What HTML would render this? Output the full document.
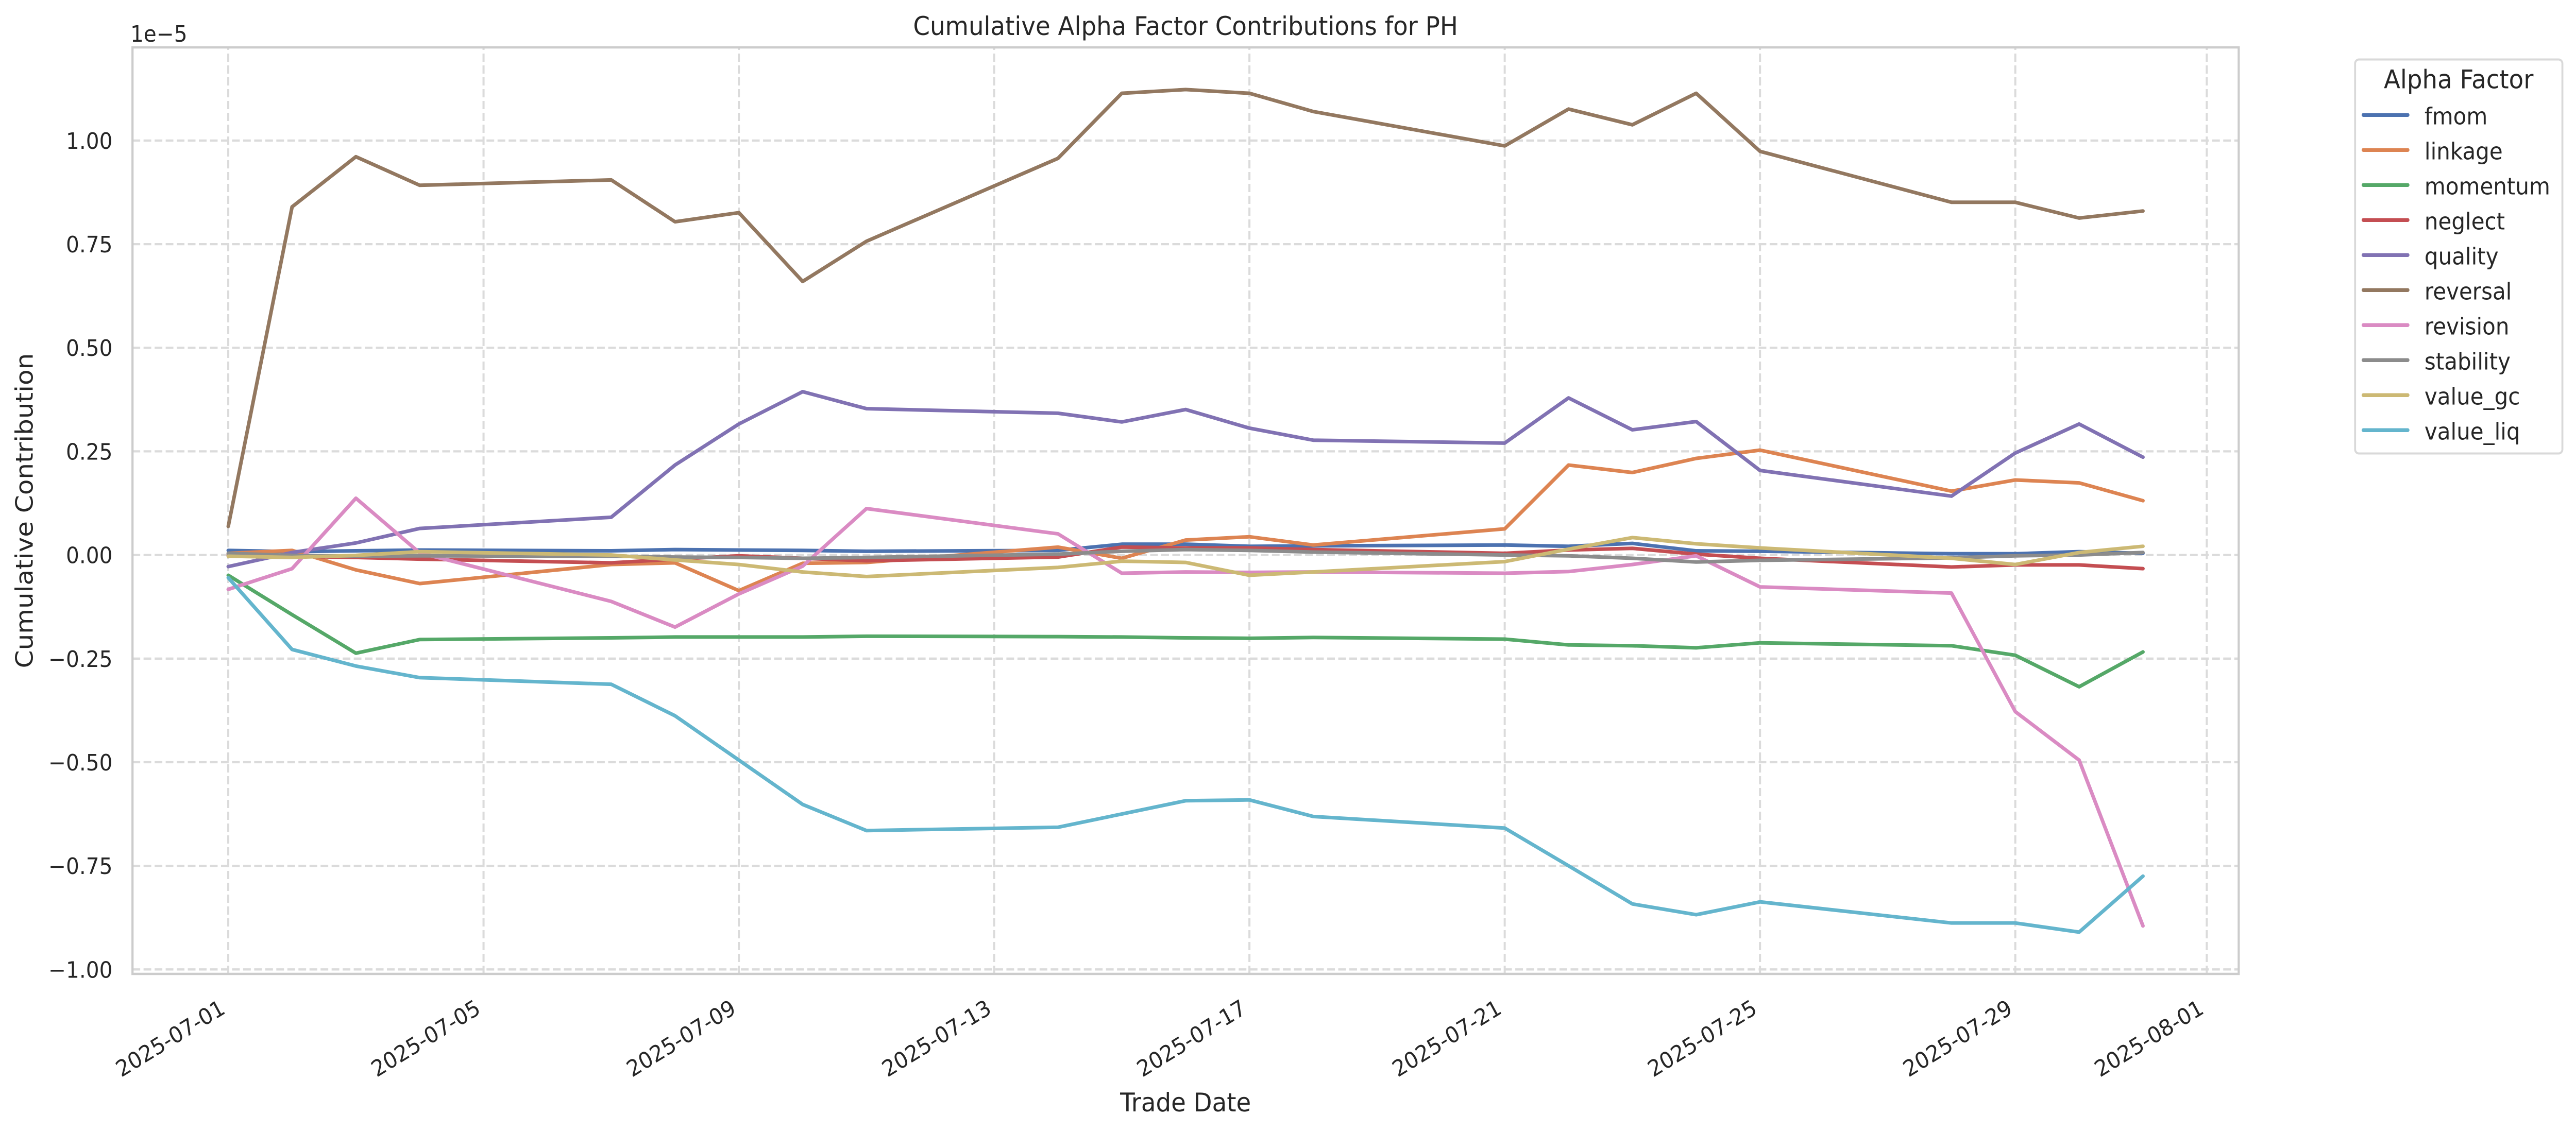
<!DOCTYPE html>
<html>
<head>
<meta charset="utf-8">
<style>
html,body{margin:0;padding:0;background:#ffffff;overflow:hidden;width:100%;height:100%;}
svg{display:block;width:100vw;height:100vh;}
text{font-family:"DejaVu Sans","Liberation Sans",sans-serif;fill:#262626;}
</style>
</head>
<body>
<svg viewBox="0 0 5356 2198" preserveAspectRatio="none" xmlns="http://www.w3.org/2000/svg">
<rect x="0" y="0" width="5356" height="2198" fill="#ffffff"/>

<!-- axes background -->
<rect x="275.5" y="92" width="4379.2" height="1799" fill="#ffffff"/>

<!-- grid -->
<g stroke="#dbdbdb" stroke-width="4.3" stroke-dasharray="16 7" fill="none">
<path d="M275.5 272.9H4654.7"/>
<path d="M275.5 474.1H4654.7"/>
<path d="M275.5 675.25H4654.7"/>
<path d="M275.5 876.4H4654.7"/>
<path d="M275.5 1077.6H4654.7"/>
<path d="M275.5 1278.8H4654.7"/>
<path d="M275.5 1479.95H4654.7"/>
<path d="M275.5 1681.1H4654.7"/>
<path d="M275.5 1882.3H4654.7"/>
<path d="M474.6 1891V92"/>
<path d="M1005.4 1891V92"/>
<path d="M1536.2 1891V92"/>
<path d="M2067 1891V92"/>
<path d="M2597.8 1891V92"/>
<path d="M3128.6 1891V92"/>
<path d="M3659.4 1891V92"/>
<path d="M4190.2 1891V92"/>
<path d="M4588.3 1891V92"/>
</g>

<!-- series -->
<g transform="translate(474.6,1077.6) scale(132.7,-804.7)" fill="none" stroke-width="7" stroke-linecap="round" stroke-linejoin="round">
<polyline vector-effect="non-scaling-stroke" stroke="#4C72B0" points="0,0.011 1,0.008 2,0.010 3,0.012 6,0.010 7,0.013 8,0.012 9,0.011 10,0.009 13,0.011 14,0.026 15,0.026 16,0.021 17,0.022 20,0.024 21,0.021 22,0.028 23,0.010 24,0.009 27,0.003 28,0.003 29,0.008 30,0.004"/>
<polyline vector-effect="non-scaling-stroke" stroke="#DD8452" points="0,0.004 1,0.011 2,-0.036 3,-0.069 6,-0.023 7,-0.019 8,-0.086 9,-0.020 10,-0.018 13,0.019 14,-0.008 15,0.036 16,0.044 17,0.024 20,0.063 21,0.217 22,0.199 23,0.233 24,0.253 27,0.154 28,0.181 29,0.174 30,0.131"/>
<polyline vector-effect="non-scaling-stroke" stroke="#55A868" points="0,-0.049 1,-0.144 2,-0.237 3,-0.204 6,-0.200 7,-0.198 8,-0.198 9,-0.198 10,-0.196 13,-0.197 14,-0.198 15,-0.200 16,-0.201 17,-0.199 20,-0.203 21,-0.217 22,-0.219 23,-0.224 24,-0.212 27,-0.219 28,-0.242 29,-0.318 30,-0.234"/>
<polyline vector-effect="non-scaling-stroke" stroke="#C44E52" points="0,0.000 1,-0.003 2,-0.006 3,-0.010 6,-0.019 7,-0.010 8,-0.002 9,-0.008 10,-0.014 13,-0.005 14,0.019 15,0.017 16,0.017 17,0.013 20,0.004 21,0.012 22,0.016 23,0.002 24,-0.008 27,-0.029 28,-0.024 29,-0.024 30,-0.033"/>
<polyline vector-effect="non-scaling-stroke" stroke="#8172B3" points="0,-0.028 1,0.006 2,0.029 3,0.064 6,0.091 7,0.217 8,0.316 9,0.394 10,0.353 13,0.342 14,0.321 15,0.351 16,0.306 17,0.277 20,0.270 21,0.379 22,0.302 23,0.322 24,0.204 27,0.142 28,0.246 29,0.316 30,0.236"/>
<polyline vector-effect="non-scaling-stroke" stroke="#937860" points="0,0.069 1,0.840 2,0.961 3,0.892 6,0.905 7,0.804 8,0.826 9,0.660 10,0.757 13,0.957 14,1.114 15,1.123 16,1.114 17,1.070 20,0.987 21,1.076 22,1.038 23,1.114 24,0.974 27,0.851 28,0.851 29,0.813 30,0.830"/>
<polyline vector-effect="non-scaling-stroke" stroke="#DA8BC3" points="0,-0.083 1,-0.033 2,0.137 3,0.005 6,-0.112 7,-0.174 8,-0.094 9,-0.027 10,0.112 13,0.051 14,-0.044 15,-0.041 16,-0.042 17,-0.041 20,-0.044 21,-0.040 22,-0.023 23,-0.002 24,-0.077 27,-0.092 28,-0.378 29,-0.495 30,-0.895"/>
<polyline vector-effect="non-scaling-stroke" stroke="#8C8C8C" points="0,0.004 1,-0.001 2,-0.003 3,-0.002 6,-0.003 7,-0.005 8,-0.006 9,-0.008 10,-0.006 13,0.002 14,0.009 15,0.013 16,0.011 17,0.007 20,0.000 21,-0.002 22,-0.008 23,-0.017 24,-0.013 27,-0.007 28,-0.002 29,0.000 30,0.006"/>
<polyline vector-effect="non-scaling-stroke" stroke="#CCB974" points="0,-0.003 1,-0.006 2,-0.001 3,0.008 6,0.000 7,-0.012 8,-0.023 9,-0.041 10,-0.052 13,-0.030 14,-0.015 15,-0.018 16,-0.049 17,-0.041 20,-0.016 21,0.014 22,0.042 23,0.027 24,0.017 27,-0.008 28,-0.023 29,0.006 30,0.021"/>
<polyline vector-effect="non-scaling-stroke" stroke="#64B5CD" points="0,-0.055 1,-0.228 2,-0.268 3,-0.296 6,-0.312 7,-0.388 8,-0.495 9,-0.602 10,-0.665 13,-0.657 14,-0.625 15,-0.593 16,-0.591 17,-0.631 20,-0.659 21,-0.750 22,-0.842 23,-0.868 24,-0.837 27,-0.888 28,-0.888 29,-0.910 30,-0.775"/>
</g>

<!-- spines -->
<rect x="275.5" y="92" width="4379.2" height="1799" fill="none" stroke="#cccccc" stroke-width="4.5"/>

<!-- y tick labels -->
<g font-size="43.5" text-anchor="end">
<text x="234" y="288.9">1.00</text>
<text x="234" y="490.1">0.75</text>
<text x="234" y="691.25">0.50</text>
<text x="234" y="892.4">0.25</text>
<text x="234" y="1093.6">0.00</text>
<text x="234" y="1294.8">−0.25</text>
<text x="234" y="1495.95">−0.50</text>
<text x="234" y="1697.1">−0.75</text>
<text x="234" y="1898.3">−1.00</text>
</g>
<text x="271" y="81" font-size="43.5">1e−5</text>

<!-- x tick labels -->
<g font-size="43.5" text-anchor="end">
<text transform="translate(471,1966) rotate(-30)">2025-07-01</text>
<text transform="translate(1002,1966) rotate(-30)">2025-07-05</text>
<text transform="translate(1533,1966) rotate(-30)">2025-07-09</text>
<text transform="translate(2064,1966) rotate(-30)">2025-07-13</text>
<text transform="translate(2594,1966) rotate(-30)">2025-07-17</text>
<text transform="translate(3125,1966) rotate(-30)">2025-07-21</text>
<text transform="translate(3656,1966) rotate(-30)">2025-07-25</text>
<text transform="translate(4187,1966) rotate(-30)">2025-07-29</text>
<text transform="translate(4585,1966) rotate(-30)">2025-08-01</text>
</g>

<!-- axis labels and title -->
<text x="2465" y="2158" font-size="50" text-anchor="middle">Trade Date</text>
<text transform="translate(68,991.5) rotate(-90)" font-size="50" text-anchor="middle">Cumulative Contribution</text>
<text x="2465" y="68" font-size="50" text-anchor="middle">Cumulative Alpha Factor Contributions for PH</text>

<!-- legend -->
<rect x="4896.7" y="115.5" width="431" height="765" rx="8" ry="8" fill="#ffffff" stroke="#d9d9d9" stroke-width="4"/>
<text x="5112" y="171.7" font-size="50" text-anchor="middle">Alpha Factor</text>
<g stroke-width="7.5" stroke-linecap="round" fill="none">
<line x1="4914" y1="223.2" x2="5006" y2="223.2" stroke="#4C72B0"/>
<line x1="4914" y1="291.2" x2="5006" y2="291.2" stroke="#DD8452"/>
<line x1="4914" y1="359.2" x2="5006" y2="359.2" stroke="#55A868"/>
<line x1="4914" y1="427.2" x2="5006" y2="427.2" stroke="#C44E52"/>
<line x1="4914" y1="495.2" x2="5006" y2="495.2" stroke="#8172B3"/>
<line x1="4914" y1="563.2" x2="5006" y2="563.2" stroke="#937860"/>
<line x1="4914" y1="631.2" x2="5006" y2="631.2" stroke="#DA8BC3"/>
<line x1="4914" y1="699.2" x2="5006" y2="699.2" stroke="#8C8C8C"/>
<line x1="4914" y1="767.2" x2="5006" y2="767.2" stroke="#CCB974"/>
<line x1="4914" y1="835.2" x2="5006" y2="835.2" stroke="#64B5CD"/>
</g>
<g font-size="45">
<text x="5041" y="241.7">fmom</text>
<text x="5041" y="309.7">linkage</text>
<text x="5041" y="377.7">momentum</text>
<text x="5041" y="445.7">neglect</text>
<text x="5041" y="513.7">quality</text>
<text x="5041" y="581.7">reversal</text>
<text x="5041" y="649.7">revision</text>
<text x="5041" y="717.7">stability</text>
<text x="5041" y="785.7">value_gc</text>
<text x="5041" y="853.7">value_liq</text>
</g>
</svg>
</body>
</html>
